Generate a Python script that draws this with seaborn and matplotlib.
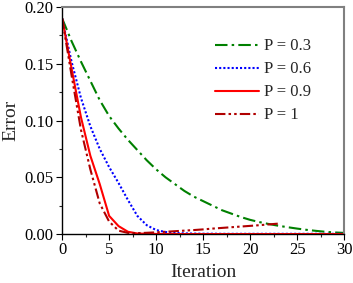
import numpy as np
import pandas as pd
import matplotlib
matplotlib.use("Agg")
import matplotlib.pyplot as plt
import seaborn as sns
from matplotlib.ticker import MultipleLocator

# Data
iter_03 = list(range(0, 31))
err_03 = [0.19, 0.170, 0.152, 0.135, 0.118, 0.104, 0.093, 0.083, 0.074, 0.065,
          0.057, 0.050, 0.044, 0.038, 0.033, 0.029, 0.025, 0.021, 0.018, 0.015,
          0.0125, 0.0105, 0.0088, 0.0073, 0.006, 0.0048, 0.0037, 0.0028, 0.002,
          0.0014, 0.001]

iter_06 = list(range(0, 31))
err_06 = [0.19, 0.152, 0.120, 0.095, 0.075, 0.059, 0.045, 0.030, 0.016, 0.0078,
          0.0035, 0.0018, 0.001, 0.0006, 0.0004, 0.0003, 0.0003, 0.0002, 0.0002,
          0.0002, 0.0002, 0.0002, 0.0002, 0.0002, 0.0002, 0.0002, 0.0002, 0.0002,
          0.0002, 0.0002, 0.0002]

iter_09 = list(range(0, 31))
err_09 = [0.19, 0.146, 0.103, 0.069, 0.044, 0.016, 0.007, 0.002, 0.0005, 0.0002,
          0.0001] + [0.0] * 20

iter_1 = list(range(0, 24))
err_1 = [0.19, 0.140, 0.092, 0.057, 0.027, 0.011, 0.003, 0.001, 0.0008, 0.0011,
         0.0015, 0.002, 0.0025, 0.003, 0.0035, 0.0041, 0.0048, 0.0054, 0.006,
         0.0066, 0.0072, 0.0078, 0.0085, 0.0092]

labels = ["P = 0.3", "P = 0.6", "P = 0.9", "P = 1"]
colors = ["#008000", "#0000FF", "#FF0000", "#B00000"]
dashes = [(6, 2, 1.2, 2), (1, 1), "", (5, 1.5, 1.2, 1.5, 1.2, 1.5)]

frames = []
for lab, xs, ys in zip(labels, [iter_03, iter_06, iter_09, iter_1],
                       [err_03, err_06, err_09, err_1]):
    frames.append(pd.DataFrame({"Iteration": xs, "Error": ys, "P": lab}))
df = pd.concat(frames, ignore_index=True)

sns.set_style("ticks")
plt.rcParams["font.family"] = ["Liberation Serif", "DejaVu Serif"]

fig = plt.figure(figsize=(3.53, 2.83), dpi=100)
ax = fig.add_axes([0.176, 0.173, 0.799, 0.802])

sns.lineplot(data=df, x="Iteration", y="Error", hue="P", style="P",
             hue_order=labels, style_order=labels,
             palette=dict(zip(labels, colors)),
             dashes=dict(zip(labels, dashes)), linewidth=1.5, ax=ax)

ax.set_xlim(0, 30)
ax.set_ylim(0, 0.20)
ax.set_xticks([0, 5, 10, 15, 20, 25, 30])
ax.set_yticks([0.0, 0.05, 0.10, 0.15, 0.20])
ax.set_yticklabels(["0.00", "0.05", "0.10", "0.15", "0.20"])
ax.xaxis.set_minor_locator(MultipleLocator(2.5))
ax.yaxis.set_minor_locator(MultipleLocator(0.025))
ax.tick_params(axis="both", which="major", labelsize=12, direction="out",
               length=4, width=0.8, color="black", labelcolor="black", pad=2)
ax.tick_params(axis="both", which="minor", direction="out", length=2, width=0.8)
ax.tick_params(top=False, right=False, which="both")

for s in ["left", "bottom"]:
    ax.spines[s].set_color("black")
    ax.spines[s].set_linewidth(1.0)
for s in ["top", "right"]:
    ax.spines[s].set_visible(True)
    ax.spines[s].set_color("#808080")
    ax.spines[s].set_linewidth(1.5)

ax.set_xlabel("Iteration", fontsize=14, labelpad=4)
ax.set_ylabel("Error", fontsize=14, labelpad=4)

leg = ax.legend(loc="upper left", frameon=False, fontsize=12,
                bbox_to_anchor=(0.543, 0.862), borderpad=0, borderaxespad=0,
                handlelength=2.6, handletextpad=0.3, labelspacing=0.42)

fig.savefig("out.png", dpi=100)
